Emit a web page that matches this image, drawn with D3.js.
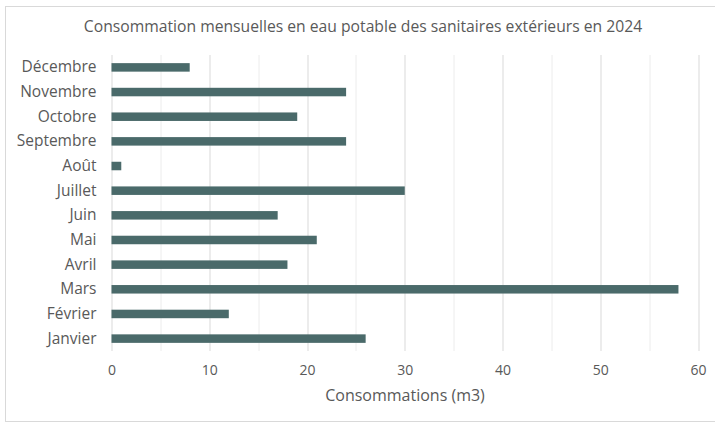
<!DOCTYPE html>
<html>
<head>
<meta charset="utf-8">
<script src="https://cdn.jsdelivr.net/npm/d3@7"></script>
<style>
  body { margin: 0; background: #fff; }
  text { font-family: "Open Sans", "Noto Sans", sans-serif; fill: #595959; }
</style>
</head>
<body>
<div id="chart"></div>
<script>
// Data
var months = ["Janvier", "Février", "Mars", "Avril", "Mai", "Juin", "Juillet", "Août", "Septembre", "Octobre", "Novembre", "Décembre"];
var consommations = [26, 12, 58, 18, 21, 17, 30, 1, 24, 19, 24, 8];
var xTicks = [0, 10, 20, 30, 40, 50, 60];
var gridValues = [0, 5, 10, 15, 20, 25, 30, 35, 40, 45, 50, 55, 60];

var svgWidth = 715;
var svgHeight = 423;
var margin = {top: 55, right: 17, bottom: 72, left: 111.5};
var chartWidth = 698 - margin.left;
var chartHeight = 351 - margin.top;

var data = months.map(function(m, i) { return {month: m, value: consommations[i]}; });

var svg = d3.select("#chart")
  .append("svg")
  .attr("width", svgWidth)
  .attr("height", svgHeight);

// outer frame (cut on the right like the reference)
svg.append("rect")
  .attr("x", 5.5).attr("y", 6.5)
  .attr("width", 730).attr("height", 415)
  .attr("fill", "none")
  .attr("stroke", "#d9d9d9");

svg.append("text")
  .attr("x", 363)
  .attr("y", 32)
  .attr("text-anchor", "middle")
  .style("font-size", "15.7px")
  .text("Consommation mensuelles en eau potable des sanitaires extérieurs en 2024");

var g = svg.append("g")
  .attr("transform", `translate(${margin.left},${margin.top})`);

var x = d3.scaleLinear().domain([0, 60]).range([0, chartWidth]);
var y = d3.scaleBand()
  .domain(months.slice().reverse())
  .range([0, chartHeight])
  .paddingInner(0.655)
  .paddingOuter(0.33);

// gridlines
g.selectAll("line.grid")
  .data(gridValues)
  .enter()
  .append("line")
  .attr("class", "grid")
  .attr("x1", function(d) { return Math.round(x(d)) + 0.5; })
  .attr("x2", function(d) { return Math.round(x(d)) + 0.5; })
  .attr("y1", 0)
  .attr("y2", chartHeight)
  .attr("stroke", function(d) { return d % 10 === 0 ? "#d9d9d9" : "#ececec"; })
  .attr("stroke-width", 1);

// bars
g.selectAll("rect.bar")
  .data(data)
  .enter()
  .append("rect")
  .attr("class", "bar")
  .attr("x", x(0))
  .attr("y", function(d) { return y(d.month); })
  .attr("width", function(d) { return x(d.value) - x(0); })
  .attr("height", y.bandwidth())
  .attr("fill", "#4a6a6a");

// x axis
var bottomAxis = d3.axisBottom(x).tickValues(xTicks).tickSize(0).tickPadding(14);
var xAxis = g.append("g")
  .attr("transform", `translate(0, ${chartHeight})`)
  .call(bottomAxis);
xAxis.select(".domain").remove();
xAxis.selectAll("text")
  .style("font-size", "14px")
  .style("font-family", "'Open Sans', sans-serif")
  .attr("fill", "#595959");

// y axis
var leftAxis = d3.axisLeft(y).tickSize(0).tickPadding(15);
var yAxis = g.append("g").call(leftAxis);
yAxis.select(".domain").remove();
yAxis.selectAll("text")
  .style("font-size", "15.5px")
  .style("font-family", "'Open Sans', sans-serif")
  .attr("fill", "#4d4d4d");

// x axis label
svg.append("text")
  .attr("x", 405)
  .attr("y", 401)
  .attr("text-anchor", "middle")
  .style("font-size", "16px")
  .text("Consommations (m3)");
</script>
</body>
</html>
